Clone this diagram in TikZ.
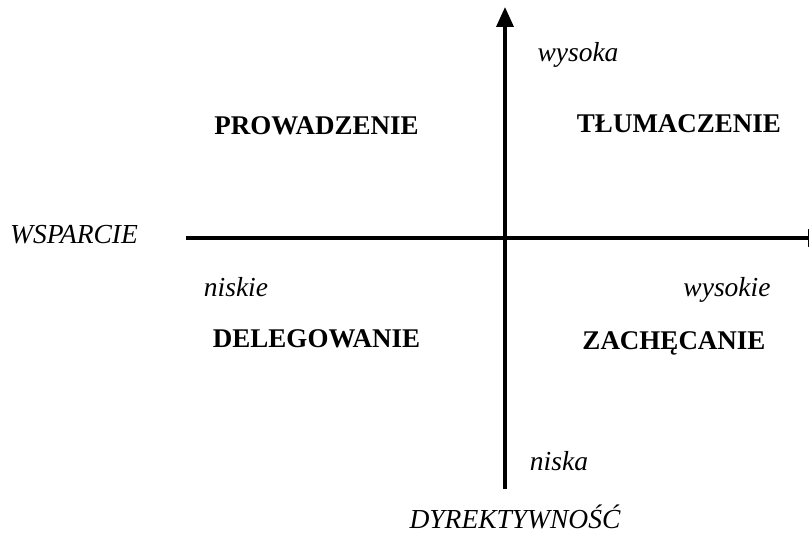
\documentclass[tikz,border=0pt]{standalone}
\usepackage{fontspec}
\setmainfont{Liberation Serif}
\usetikzlibrary{arrows.meta}
\begin{document}
\begin{tikzpicture}[x=1pt,y=-1pt,
  axis/.style={line width=3.5pt,-{Triangle[width=17pt,length=20pt]}},
  quad/.style={font=\fontsize{27}{32}\selectfont\bfseries,anchor=base},
  lbl/.style={font=\fontsize{27.5}{32}\selectfont\itshape,anchor=base}]
  \clip (0,0) rectangle (809,534);
  \useasboundingbox (0,0) rectangle (809,534);
  % axis end points
  \coordinate (vbot) at (505,489);
  \coordinate (vtop) at (505,7);
  \coordinate (hleft) at (186,238);
  \coordinate (hright) at (828,238);
  \draw[axis] (vbot) -- (vtop);
  \draw[axis] (hleft) -- (hright);
  % axis labels
  \node[lbl] (wsp) at (74,244) {WSPARCIE};
  \node[lbl] (dyr) at (515,528) {DYREKTYWNOŚĆ};
  \node[lbl] (wysoka) at (578,62) {wysoka};
  \node[lbl] (niska) at (559,471) {niska};
  \node[lbl] (niskie) at (236,297) {niskie};
  \node[lbl] (wysokie) at (727,297) {wysokie};
  % quadrant names
  \node[quad] (prow) at (316.5,135) {PROWADZENIE};
  \node[quad] (tlum) at (679,133) {TŁUMACZENIE};
  \node[quad] (deleg) at (316.5,348) {DELEGOWANIE};
  \node[quad] (zach) at (674,350) {ZACHĘCANIE};
\end{tikzpicture}
\end{document}
